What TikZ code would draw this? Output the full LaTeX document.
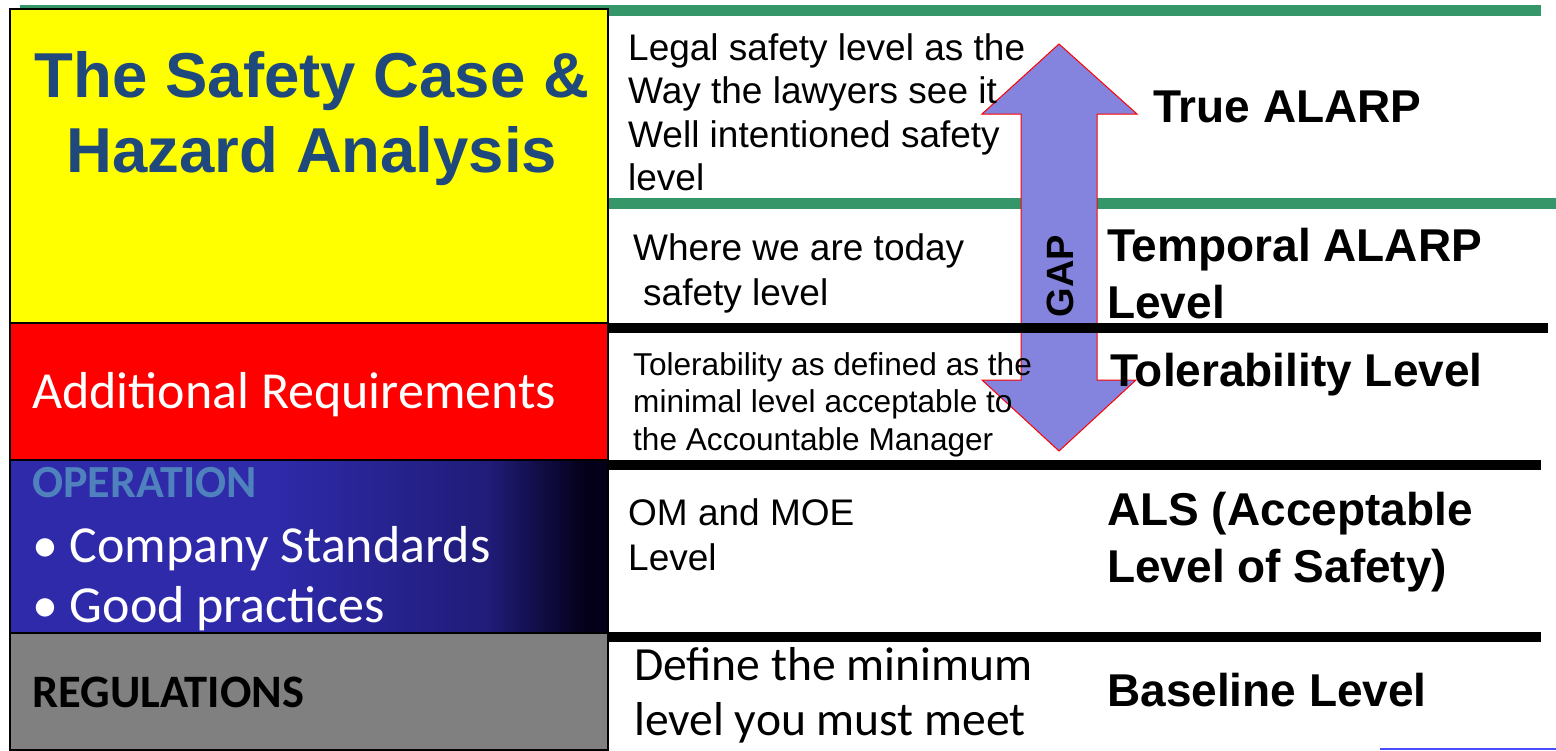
\documentclass[tikz,border=0pt]{standalone}
\usepackage{fontspec}
\setmainfont{Liberation Sans}
\newfontfamily\calfont{Carlito}
\definecolor{titleblue}{HTML}{1F497D}
\definecolor{linegreen}{HTML}{359669}
\definecolor{arrowfill}{HTML}{8484DE}
\definecolor{opblue}{HTML}{4F81BD}
\definecolor{gradA}{HTML}{2E2AAA}
\definecolor{gradB}{HTML}{201C78}
\definecolor{gradC}{HTML}{05001A}
\definecolor{boxgray}{HTML}{808080}
\definecolor{boxyellow}{HTML}{FFFF00}
\definecolor{boxred}{HTML}{FF0000}
\definecolor{pureRed}{HTML}{FF0000}
\pgfdeclarehorizontalshading{opgrad}{100bp}{color(0bp)=(gradA); color(47bp)=(gradA); color(65bp)=(gradB); color(73bp)=(gradC); color(100bp)=(gradC)}
\begin{document}
\begin{tikzpicture}[x=1pt,y=-1pt,
  boxline/.style={draw=black,line width=2pt},
  greenrule/.style={draw=linegreen,line width=11pt},
  blackrule/.style={draw=black,line width=10pt},
  midtxt/.style={anchor=base west,inner sep=0pt,align=left,font=\fontsize{37}{43.5}\selectfont},
  righttxt/.style={anchor=base west,inner sep=0pt,align=left,font=\fontsize{46}{57}\selectfont\bfseries},
  caltxt/.style={anchor=base west,inner sep=0pt,align=left,text=white,font=\calfont\fontsize{52}{60}\selectfont}]
\useasboundingbox (0,0) rectangle (1556,750);
\fill[white] (0,0) rectangle (1556,750);
% green rules
\coordinate (g1a) at (20,10); \coordinate (g1b) at (1541,10);
\coordinate (g2a) at (608,203); \coordinate (g2b) at (1556,203);
\draw[greenrule] (g1a) -- (g1b);
\draw[greenrule] (g2a) -- (g2b);
% left boxes
\fill[boxyellow] (10,9) rectangle (608,323);
\fill[boxred] (10,323) rectangle (608,460);
\shade[shading=opgrad] (10,460) rectangle (608,633);
\fill[boxgray] (10,633) rectangle (608,750);
\draw[boxline] (10,9) rectangle (608,323);
\draw[boxline] (10,323) rectangle (608,460);
\draw[boxline] (10,460) rectangle (608,633);
\draw[boxline] (10,633) rectangle (608,750);
% GAP double arrow
\draw[fill=arrowfill,draw=pureRed,line width=1pt]
  (1059,44) -- (1137,114) -- (1097,114) -- (1097,380) -- (1136,380) -- (1059,451)
  -- (982,380) -- (1021,380) -- (1021,114) -- (982,114) -- cycle;
\node[rotate=90,font=\fontsize{38}{40}\selectfont\bfseries,inner sep=0pt] (gap) at (1060,276) {GAP};
% black rules
\coordinate (b1a) at (608,328); \coordinate (b1b) at (1548,328);
\coordinate (b2a) at (608,465); \coordinate (b2b) at (1541,465);
\coordinate (b3a) at (608,637); \coordinate (b3b) at (1541,637);
\draw[blackrule] (b1a) -- (b1b);
\draw[blackrule] (b2a) -- (b2b);
\draw[blackrule] (b3a) -- (b3b);
\coordinate (bla) at (1380,749); \coordinate (blb) at (1556,749);
\draw[draw=blue!70!white,line width=1.2pt] (bla) -- (blb);
% left texts (base anchor = last line baseline)
\node[anchor=base,inner sep=0pt,align=center,text=titleblue,font=\fontsize{63.5}{75}\selectfont\bfseries] (title) at (312,172) {The Safety Case \&\\Hazard Analysis};
\node[caltxt] (addreq) at (32,408) {Additional Requirements};
\node[anchor=base west,inner sep=0pt,text=opblue,font=\calfont\fontsize{46}{50}\selectfont\bfseries] (oper) at (32,497) {OPERATION};
\node[caltxt] (ops) at (32,622) {\textbullet\ Company Standards\\\textbullet\ Good practices};
\node[anchor=base west,inner sep=0pt,font=\calfont\fontsize{46.5}{50}\selectfont\bfseries] (regs) at (32,707) {REGULATIONS};
% middle texts
\node[midtxt] (legal) at (628,190.5) {Legal safety level as the\\Way the lawyers see it\\Well intentioned safety\\level};
\node[anchor=base west,inner sep=0pt,align=left,font=\fontsize{37}{45}\selectfont] (today) at (633,305) {Where we are today\\\hspace*{10pt}safety level};
\node[anchor=base west,inner sep=0pt,align=left,font=\fontsize{31.6}{37.5}\selectfont] (toler) at (633,450) {Tolerability as defined as the\\minimal level acceptable to\\the Accountable Manager};
\node[anchor=base west,inner sep=0pt,align=left,font=\fontsize{37}{45}\selectfont] (om) at (628,570) {OM and MOE\\Level};
\node[anchor=base west,inner sep=0pt,align=left,font=\calfont\fontsize{47.6}{55}\selectfont] (define) at (634,735) {Define the minimum\\level you must meet};
% right texts
\node[righttxt] (true) at (1153,122) {True ALARP};
\node[righttxt] (temporal) at (1107,318) {Temporal ALARP\\Level};
\node[righttxt] (tolevel) at (1110,386) {Tolerability Level};
\node[righttxt] (als) at (1107,582) {ALS (Acceptable\\Level of Safety)};
\node[righttxt] (base) at (1107,706) {Baseline Level};
\end{tikzpicture}
\end{document}
